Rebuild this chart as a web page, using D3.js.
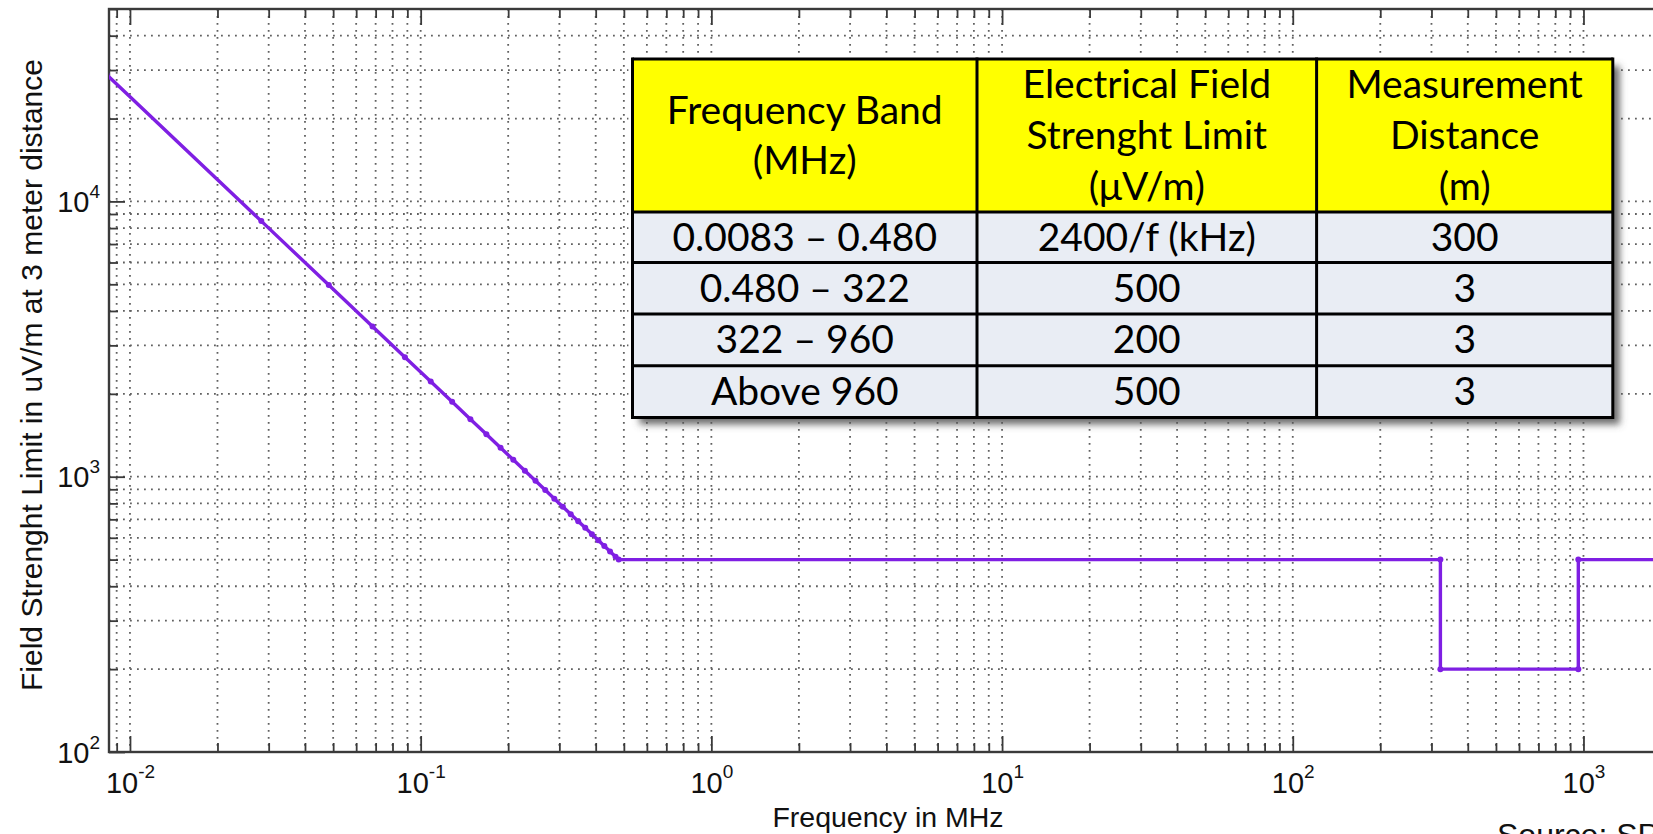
<!DOCTYPE html>
<html>
<head>
<meta charset="utf-8">
<script src="https://cdn.jsdelivr.net/npm/d3@7"></script>
<style>
  html, body { margin: 0; padding: 0; background: #fff; overflow: hidden; }
  svg { display: block; }
</style>
</head>
<body>
<svg id="chart" width="1653" height="834"></svg>
<script>
// ---------------- data ----------------
const freqMHz = [0.0083, 0.0283, 0.0483, 0.0683, 0.0883, 0.1083, 0.1283, 0.1483, 0.1683, 0.1883,
                 0.2083, 0.2283, 0.2483, 0.2683, 0.2883, 0.3083, 0.3283, 0.3483, 0.3683, 0.3883,
                 0.4083, 0.4283, 0.4483, 0.4683, 0.48, 322, 322, 960, 960, 10000];
const limitUVm = [28916, 8481, 4969, 3514, 2718, 2216, 1871, 1618, 1426, 1275,
                  1152, 1051, 967, 895, 832, 778, 731, 689, 652, 618,
                  588, 560, 535, 512, 500, 500, 200, 200, 500, 500];
const xTickExps = [-2, -1, 0, 1, 2, 3];
const yTickExps = [2, 3, 4];
const xLabel = "Frequency in MHz";
const yLabel = "Field Strenght Limit in uV/m at 3 meter distance";
const sourceText = "Source: SP";

const tableHeader = [
  ["Frequency Band", "(MHz)"],
  ["Electrical Field", "Strenght Limit", "(\u03BCV/m)"],
  ["Measurement", "Distance", "(m)"]
];
const tableRows = [
  ["0.0083 \u2013 0.480", "2400/f (kHz)", "300"],
  ["0.480 \u2013 322", "500", "3"],
  ["322 \u2013 960", "200", "3"],
  ["Above 960", "500", "3"]
];

// ---------------- layout ----------------
const W = 1653, H = 834;
const plotLeft = 109, plotTop = 9, plotBottom = 752;
const xDomain = [0.00847, 10000];
const yDomain = [100, 50000];
const decadeX = 290.7;
const plotRight = plotLeft + (Math.log10(xDomain[1]) - Math.log10(xDomain[0])) * decadeX;

const svg = d3.select("#chart");
svg.append("rect").attr("width", W).attr("height", H).attr("fill", "#fff");

const x = d3.scaleLog().domain(xDomain).range([plotLeft, plotRight]);
const y = d3.scaleLog().domain(yDomain).range([plotBottom, plotTop]);

const defs = svg.append("defs");
defs.append("clipPath").attr("id", "plotclip")
  .append("rect").attr("x", plotLeft).attr("y", plotTop)
  .attr("width", plotRight - plotLeft).attr("height", plotBottom - plotTop);

// ---------------- grid ----------------
const gridColor = "#606060";
const xGridVals = x.ticks().filter(v => x(v) > plotLeft + 0.5 && x(v) < plotRight - 0.5);
const yGridVals = y.ticks().filter(v => y(v) < plotBottom - 0.5 && y(v) > plotTop + 0.5);
const grid = svg.append("g");
grid.selectAll("line.vx").data(xGridVals).join("line")
  .attr("x1", d => x(d)).attr("x2", d => x(d))
  .attr("y1", plotTop).attr("y2", plotBottom)
  .attr("stroke", gridColor).attr("stroke-width", 1.8)
  .attr("stroke-dasharray", "1.8,5.2");
grid.selectAll("line.hy").data(yGridVals).join("line")
  .attr("x1", plotLeft).attr("x2", plotRight)
  .attr("y1", d => y(d)).attr("y2", d => y(d))
  .attr("stroke", gridColor).attr("stroke-width", 1.8)
  .attr("stroke-dasharray", "1.8,5.2");

// ---------------- axes ----------------
const axisColor = "#3a3a3a";
const majorX = xTickExps.map(e => Math.pow(10, e));
const majorY = yTickExps.map(e => Math.pow(10, e));
const minorX = x.ticks().filter(v => !majorX.some(m => Math.abs(m - v) / m < 1e-9));
const minorY = y.ticks().filter(v => !majorY.some(m => Math.abs(m - v) / m < 1e-9));
const majLen = 16, minLen = 9;

function styleAxis(g) {
  g.select(".domain").remove();
  g.selectAll(".tick line").attr("stroke", axisColor).attr("stroke-width", 1.8);
}

// bottom
svg.append("g").attr("transform", `translate(0,${plotBottom})`)
  .call(d3.axisBottom(x).tickValues(minorX).tickSize(-minLen).tickFormat(""))
  .call(styleAxis);
const xAxisMajor = svg.append("g").attr("transform", `translate(0,${plotBottom})`)
  .call(d3.axisBottom(x).tickValues(majorX).tickSize(-majLen))
  .call(styleAxis);
xAxisMajor.selectAll(".tick text").each(function(d, i) {
  const t = d3.select(this);
  t.text(null).attr("y", 41).attr("dy", null)
    .attr("fill", "#111").attr("font-family", "Liberation Sans, Arial, sans-serif")
    .attr("font-size", 29).attr("text-anchor", "middle");
  t.append("tspan").text("10");
  t.append("tspan").attr("font-size", 19).attr("dy", -15).text(String(xTickExps[i]));
});
// top
svg.append("g").attr("transform", `translate(0,${plotTop})`)
  .call(d3.axisTop(x).tickValues(minorX).tickSize(-minLen).tickFormat(""))
  .call(styleAxis);
svg.append("g").attr("transform", `translate(0,${plotTop})`)
  .call(d3.axisTop(x).tickValues(majorX).tickSize(-majLen).tickFormat(""))
  .call(styleAxis);
// left
svg.append("g").attr("transform", `translate(${plotLeft},0)`)
  .call(d3.axisLeft(y).tickValues(minorY).tickSize(-minLen).tickFormat(""))
  .call(styleAxis);
const yAxisMajor = svg.append("g").attr("transform", `translate(${plotLeft},0)`)
  .call(d3.axisLeft(y).tickValues(majorY).tickSize(-majLen))
  .call(styleAxis);
yAxisMajor.selectAll(".tick text").each(function(d, i) {
  const t = d3.select(this);
  t.text(null).attr("x", -9).attr("dy", null).attr("y", 10)
    .attr("fill", "#111").attr("font-family", "Liberation Sans, Arial, sans-serif")
    .attr("font-size", 29).attr("text-anchor", "end");
  t.append("tspan").text("10");
  t.append("tspan").attr("font-size", 19).attr("dy", -14).text(String(yTickExps[i]));
});
// right (off-screen mostly)
svg.append("g").attr("transform", `translate(${plotRight},0)`)
  .call(d3.axisRight(y).tickValues(majorY).tickSize(-majLen).tickFormat(""))
  .call(styleAxis);

// frame
svg.append("rect").attr("x", plotLeft).attr("y", plotTop)
  .attr("width", plotRight - plotLeft).attr("height", plotBottom - plotTop)
  .attr("fill", "none").attr("stroke", axisColor).attr("stroke-width", 2.4);

// ---------------- line ----------------
const pts = freqMHz.map((f, i) => ({ f, v: limitUVm[i] }));
const lineColor = "#7f1fe3";
const plotG = svg.append("g").attr("clip-path", "url(#plotclip)");
plotG.append("path").datum(pts)
  .attr("d", d3.line().x(d => x(d.f)).y(d => y(d.v)))
  .attr("fill", "none").attr("stroke", lineColor).attr("stroke-width", 3.4)
  .attr("stroke-linejoin", "round");
plotG.selectAll("circle").data(pts).join("circle")
  .attr("cx", d => x(d.f)).attr("cy", d => y(d.v)).attr("r", 3)
  .attr("fill", lineColor);

// ---------------- axis titles ----------------
svg.append("text").attr("x", 888).attr("y", 827)
  .attr("text-anchor", "middle").attr("font-family", "Liberation Sans, Arial, sans-serif")
  .attr("font-size", 28.5).attr("fill", "#111").text(xLabel);
svg.append("text").attr("transform", "translate(42,375) rotate(-90)")
  .attr("text-anchor", "middle").attr("font-family", "Liberation Sans, Arial, sans-serif")
  .attr("font-size", 30).attr("fill", "#111").text(yLabel);
svg.append("text").attr("x", 1497).attr("y", 846)
  .attr("font-family", "Liberation Sans, Arial, sans-serif")
  .attr("font-size", 32).attr("fill", "#111").text(sourceText);

// ---------------- table ----------------
const colEdges = [632.5, 977, 1316.6, 1612.8];
const rowEdges = [59, 212, 262.5, 314.1, 365.8, 417.5];
const tableFont = "Lato, 'Open Sans', sans-serif";
const tableFontSize = 39;
const lineGap = 50.6;

const shadow = defs.append("filter").attr("id", "tshadow")
  .attr("x", "-5%").attr("y", "-5%").attr("width", "115%").attr("height", "125%");
shadow.append("feDropShadow").attr("dx", 7).attr("dy", 7).attr("stdDeviation", 3.5)
  .attr("flood-color", "#555").attr("flood-opacity", 0.85);

const tbl = svg.append("g");
tbl.append("rect").attr("x", colEdges[0] - 4).attr("y", rowEdges[0] - 4)
  .attr("width", colEdges[3] - colEdges[0] + 8).attr("height", rowEdges[5] - rowEdges[0] + 8)
  .attr("fill", "#fff");
tbl.append("rect").attr("x", colEdges[0]).attr("y", rowEdges[0])
  .attr("width", colEdges[3] - colEdges[0]).attr("height", rowEdges[5] - rowEdges[0])
  .attr("fill", "#e9edf4").attr("filter", "url(#tshadow)");
tbl.append("rect").attr("x", colEdges[0]).attr("y", rowEdges[0])
  .attr("width", colEdges[3] - colEdges[0]).attr("height", rowEdges[1] - rowEdges[0])
  .attr("fill", "#ffff00");

tableHeader.forEach((lines, c) => {
  const cx = (colEdges[c] + colEdges[c + 1]) / 2;
  const cy = (rowEdges[0] + rowEdges[1]) / 2;
  const n = lines.length;
  lines.forEach((s, k) => {
    const lc = cy + (k - (n - 1) / 2) * lineGap;
    tbl.append("text").attr("x", cx).attr("y", lc + 13.5)
      .attr("text-anchor", "middle").attr("font-family", tableFont)
      .attr("font-size", tableFontSize).attr("fill", "#000").text(s);
  });
});
tableRows.forEach((row, r) => {
  const cy = (rowEdges[r + 1] + rowEdges[r + 2]) / 2;
  row.forEach((s, c) => {
    const cx = (colEdges[c] + colEdges[c + 1]) / 2;
    tbl.append("text").attr("x", cx).attr("y", cy + 13.5)
      .attr("text-anchor", "middle").attr("font-family", tableFont)
      .attr("font-size", tableFontSize).attr("fill", "#000").text(s);
  });
});
rowEdges.forEach(yy => {
  tbl.append("line").attr("x1", colEdges[0]).attr("x2", colEdges[3])
    .attr("y1", yy).attr("y2", yy).attr("stroke", "#000").attr("stroke-width", 3);
});
colEdges.forEach(xx => {
  tbl.append("line").attr("x1", xx).attr("x2", xx)
    .attr("y1", rowEdges[0] - 1.5).attr("y2", rowEdges[5] + 1.5)
    .attr("stroke", "#000").attr("stroke-width", 3);
});
</script>
</body>
</html>
